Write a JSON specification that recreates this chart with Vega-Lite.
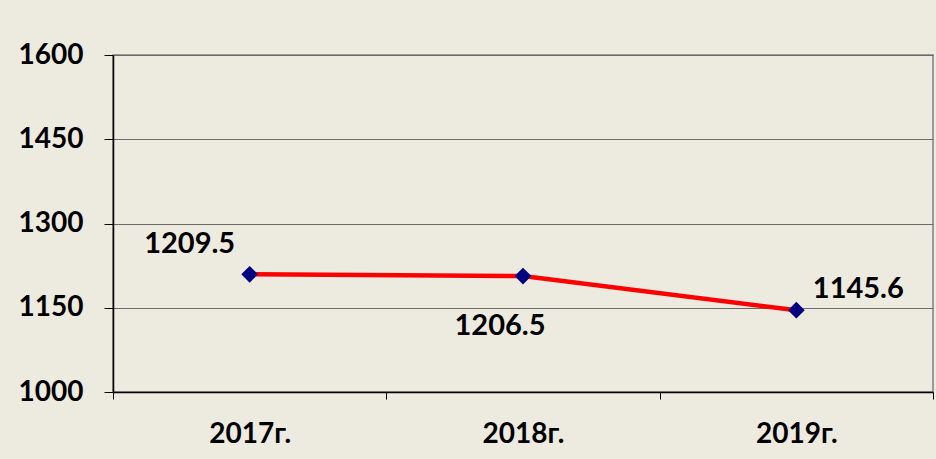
{
  "$schema": "https://vega.github.io/schema/vega-lite/v6.json",
  "width": 820,
  "height": 337,
  "autosize": "none",
  "padding": {"left": 113, "top": 55, "right": 3, "bottom": 67},
  "background": "#EDEAE0",
  "config": {
    "view": {"stroke": "#808080", "strokeWidth": 1.5, "fill": "#EDEAE0"},
    "font": "Lato"
  },
  "data": {
    "values": [
      {"year": "2017г.", "value": 1209.5, "label": "1209.5"},
      {"year": "2018г.", "value": 1206.5, "label": "1206.5"},
      {"year": "2019г.", "value": 1145.6, "label": "1145.6"}
    ]
  },
  "encoding": {
    "x": {
      "field": "year",
      "type": "ordinal",
      "scale": {"type": "band", "paddingInner": 0, "paddingOuter": 0},
      "axis": {
        "title": null,
        "labelAngle": 0,
        "labelFont": "Lato",
        "labelFontWeight": "bold",
        "labelFontSize": 28,
        "labelColor": "#000000",
        "labelPadding": 21,
        "tickBand": "extent",
        "tickSize": 7,
        "tickColor": "#000000",
        "domainColor": "#000000",
        "domainWidth": 1.5,
        "grid": false
      }
    },
    "y": {
      "field": "value",
      "type": "quantitative",
      "scale": {"domain": [1000, 1600], "nice": false, "zero": false},
      "axis": {
        "title": null,
        "values": [1000, 1150, 1300, 1450, 1600],
        "format": "d",
        "labelFont": "Lato",
        "labelFontWeight": "bold",
        "labelFontSize": 28,
        "labelColor": "#000000",
        "labelPadding": 21,
        "tickSize": 9,
        "tickColor": "#000000",
        "domainColor": "#000000",
        "domainWidth": 1.5,
        "grid": true,
        "gridColor": "#6a6a6a",
        "gridWidth": 1.2,
        "gridOpacity": 1
      }
    }
  },
  "layer": [
    {"mark": {"type": "line", "color": "#FF0000", "strokeWidth": 4.5}},
    {"mark": {"type": "point", "shape": "diamond", "filled": true, "color": "#000080", "size": 280, "opacity": 1}},
    {
      "transform": [{"filter": "datum.year === '2017г.'"}],
      "mark": {"type": "text", "font": "Lato", "fontWeight": "bold", "fontSize": 29, "color": "#000000", "dx": -60, "dy": -30},
      "encoding": {"text": {"field": "label"}}
    },
    {
      "transform": [{"filter": "datum.year === '2018г.'"}],
      "mark": {"type": "text", "font": "Lato", "fontWeight": "bold", "fontSize": 29, "color": "#000000", "dx": -23, "dy": 50},
      "encoding": {"text": {"field": "label"}}
    },
    {
      "transform": [{"filter": "datum.year === '2019г.'"}],
      "mark": {"type": "text", "font": "Lato", "fontWeight": "bold", "fontSize": 29, "color": "#000000", "dx": 62, "dy": -21},
      "encoding": {"text": {"field": "label"}}
    }
  ]
}
